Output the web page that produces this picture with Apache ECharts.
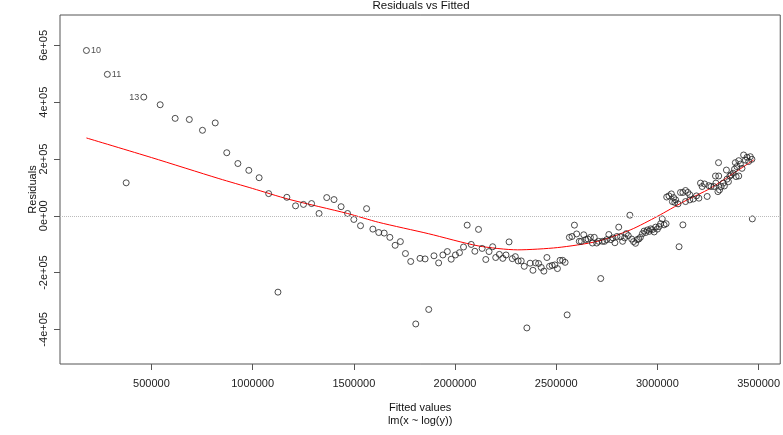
<!DOCTYPE html>
<html>
<head>
<meta charset="utf-8">
<script src="https://cdn.jsdelivr.net/npm/echarts@6/dist/echarts.min.js"></script>
<style>
html,body{margin:0;padding:0;background:#fff;}
#chart{width:783px;height:435px;}
</style>
</head>
<body>
<div id="chart"></div>
<script>
// Fitted values (x) and residuals (y)
var fitted = [178600,282000,375000,462000,543000,617000,687000,752000,815000,872000,927000,981000,1032000,1079000,1125000,1169000,1212000,1251000,1291000,1328000,1366000,1402000,1437000,1469000,1500000,1533000,1563000,1594000,1623000,1650000,1678000,1704000,1730000,1755000,1781000,1806000,1827000,1852000,1870000,1896000,1919000,1940000,1962000,1981000,2002000,2022000,2042000,2060000,2080000,2098000,2116000,2134000,2152000,2168000,2186000,2201000,2219000,2236000,2252000,2267000,2283000,2298000,2312000,2327000,2342000,2355000,2371000,2385000,2398000,2413000,2426000,2439000,2454000,2467000,2480000,2493000,2506000,2519000,2532000,2544000,2554000,2565000,2578000,2590000,2601000,2614000,2624000,2636000,2646000,2657000,2669000,2679000,2688000,2700000,2710000,2720000,2729000,2739000,2750000,2760000,2770000,2780000,2790000,2800000,2809000,2818000,2828000,2838000,2846000,2856000,2864000,2873000,2882000,2892000,2900000,2908000,2916000,2926000,2934000,2942000,2951000,2959000,2967000,2975000,2984000,2991000,3000000,3008000,3016000,3024000,3033000,3043000,3046000,3057000,3069000,3074000,3080000,3086000,3090000,3102000,3107000,3114000,3126000,3126000,3139000,3139000,3150000,3160000,3160000,3177000,3193000,3205000,3213000,3221000,3233000,3246000,3254000,3265000,3279000,3287000,3289000,3299000,3302000,3303000,3307000,3315000,3325000,3331000,3341000,3344000,3351000,3358000,3364000,3374000,3381000,3385000,3389000,3393000,3402000,3402000,3410000,3418000,3426000,3435000,3443000,3451000,3459000,3467000,3469000];
var residuals = [582000,498000,116000,418000,391000,343000,339000,301000,327000,222000,184000,160000,134000,78000,-269000,65000,35000,40000,43000,8000,64000,57000,32000,8000,-13000,-35000,25000,-47000,-59000,-61000,-76000,-104000,-91000,-133000,-161000,-381000,-150000,-152000,-330000,-141000,-166000,-138000,-126000,-153000,-138000,-130000,-110000,-33000,-101000,-125000,-48000,-115000,-154000,-126000,-109000,-147000,-136000,-150000,-138000,-92000,-151000,-144000,-159000,-159000,-178000,-395000,-167000,-192000,-166000,-168000,-182000,-195000,-147000,-178000,-175000,-173000,-186000,-157000,-157000,-164000,-349000,-76000,-73000,-33000,-64000,-90000,-90000,-67000,-84000,-82000,-76000,-96000,-76000,-96000,-90000,-221000,-90000,-90000,-84000,-66000,-84000,-78000,-95000,-73000,-40000,-74000,-90000,-78000,-63000,-70000,2000,-82000,-91000,-97000,-84000,-82000,-76000,-63000,-54000,-59000,-50000,-55000,-46000,-49000,-57000,-40000,-47000,-38000,-28000,-11000,-32000,-28000,66000,70000,77000,50000,64000,47000,56000,42000,-109000,82000,82000,-32000,89000,50000,82000,74000,56000,59000,70000,62000,115000,103000,112000,68000,106000,103000,103000,140000,115000,85000,187000,140000,91000,103000,115000,105000,161000,129000,120000,140000,144000,150000,164000,187000,138000,173000,194000,140000,182000,167000,214000,196000,206000,191000,208000,199000,-11000];
// Labelled observations: index in arrays above, label text, side
var labelIdx = [0, 1, 3];
var labelText = ['10', '11', '13'];
var labelSide = ['right', 'right', 'left'];
// Smoother (lowess) through the residuals
var smoothX = [178600,500000,833000,1000000,1179000,1469000,1622000,1868000,2114000,2310000,2507000,2704000,2869000,3000000,3131000,3262000,3476000];
var smoothY = [274000,205000,131000,96000,58000,8000,-23000,-63000,-106000,-120000,-112000,-90000,-49000,-2000,50000,97000,197000];
// Tick values and labels
var xTicks = [500000,1000000,1500000,2000000,2500000,3000000,3500000];
var yTicks = [-400000,-200000,0,200000,400000,600000];
var yTickLabels = ['-4e+05','-2e+05','0e+00','2e+05','4e+05','6e+05'];

var FONT = "'Liberation Sans', Arial, sans-serif";
var pts = fitted.map(function (x, i) {
  var k = labelIdx.indexOf(i);
  var item = { value: [x, residuals[i]] };
  if (k >= 0) {
    item.label = { show: true, formatter: labelText[k], position: labelSide[k], distance: 1,
      fontSize: 9, color: '#222', fontFamily: FONT };
  }
  return item;
});
var smooth = smoothX.map(function (x, i) { return [x, smoothY[i]]; });

var chart = echarts.init(document.getElementById('chart'), null, { renderer: 'canvas' });
chart.setOption({
  animation: false,
  backgroundColor: '#fff',
  title: {
    text: 'Residuals vs Fitted',
    left: 421, top: 0, padding: 0, textAlign: 'center',
    textStyle: { fontSize: 11.5, fontWeight: 'normal', color: '#111', fontFamily: FONT }
  },
  grid: {
    left: 60, right: 2, top: 15, bottom: 71,
    show: true, borderColor: '#555', borderWidth: 1, backgroundColor: 'transparent'
  },
  xAxis: {
    type: 'value', min: 48000, max: 3607000,
    name: 'Fitted values\nlm(x ~ log(y))', nameLocation: 'middle', nameGap: 37, nameMoveOverlap: false,
    nameTextStyle: { fontSize: 11, color: '#111', fontFamily: FONT, lineHeight: 13 },
    axisLine: { show: false, onZero: false },
    splitLine: { show: false },
    axisTick: { show: true, length: 6, customValues: xTicks, lineStyle: { color: '#555' } },
    axisLabel: { customValues: xTicks, margin: 14, fontSize: 11, color: '#222', fontFamily: FONT,
      formatter: function (v) { return String(v); } }
  },
  yAxis: {
    type: 'value', min: -522000, max: 707000,
    name: 'Residuals', nameLocation: 'middle', nameRotate: 90, nameGap: 22, nameMoveOverlap: false,
    nameTextStyle: { fontSize: 11, color: '#111', fontFamily: FONT },
    axisLine: { show: false, onZero: false },
    splitLine: { show: false },
    axisTick: { show: true, length: 6, customValues: yTicks, lineStyle: { color: '#555' } },
    axisLabel: {
      customValues: yTicks, rotate: 90, margin: 11, fontSize: 11, color: '#222', fontFamily: FONT,
      formatter: function (v) { var i = yTicks.indexOf(v); return i >= 0 ? yTickLabels[i] : ''; }
    }
  },
  series: [
    {
      type: 'scatter', data: pts, symbol: 'circle', symbolSize: 6,
      itemStyle: { color: 'rgba(0,0,0,0)', borderColor: '#222', borderWidth: 1 },
      silent: true,
      markLine: {
        silent: true, symbol: 'none', label: { show: false },
        lineStyle: { type: 'dotted', color: '#bbb', width: 1 },
        data: [{ yAxis: 0 }]
      },
      z: 3
    },
    {
      type: 'line', data: smooth, showSymbol: false, smooth: 0.25,
      lineStyle: { color: '#ff0000', width: 1 }, silent: true, z: 2
    }
  ]
});
</script>
</body>
</html>
